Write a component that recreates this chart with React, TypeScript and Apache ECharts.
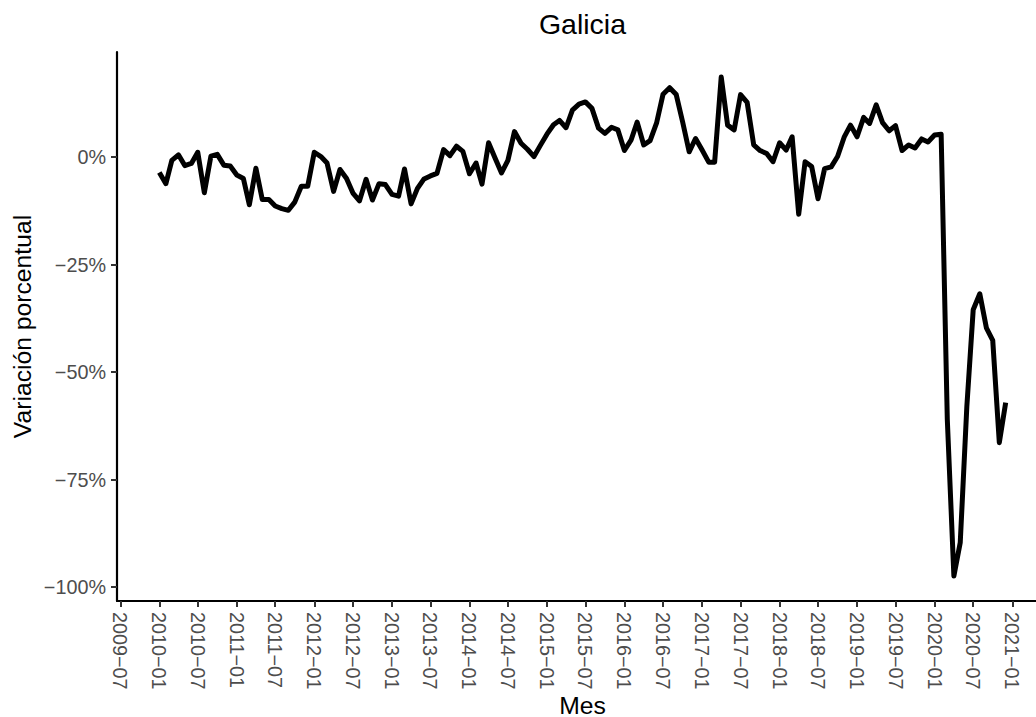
import React, { useEffect, useRef } from "react";
import * as echarts from "echarts";

// Monthly series starts 2010-01
const START_YEAR = 2010;
const START_MONTH = 0;

// Variación porcentual (%) by month, 2010-01 … 2020-12
const values: number[] = [
  -3.6, -6.2, -0.8, 0.5, -2.0, -1.5, 1.1, -8.3, 0.2, 0.6, -1.9, -2.1,
  -4.2, -5.0, -11.1, -2.6, -9.9, -9.9, -11.4, -12.0, -12.4, -10.5, -6.8, -6.8,
  1.1, 0.1, -1.4, -8.0, -2.9, -5.0, -8.4, -10.2, -5.2, -10.0, -6.2, -6.4,
  -8.7, -9.1, -2.8, -10.9, -7.3, -5.1, -4.4, -3.8, 1.7, 0.3, 2.5, 1.3,
  -3.9, -1.4, -6.3, 3.3, -0.2, -3.7, -0.8, 5.9, 3.2, 1.8, 0.1, 2.7,
  5.3, 7.5, 8.5, 6.8, 10.9, 12.3, 12.8, 11.3, 6.7, 5.5, 6.9, 6.3,
  1.5, 3.9, 8.1, 2.8, 3.8, 8.0, 14.6, 16.1, 14.5, 8.2, 1.2, 4.3,
  1.6, -1.2, -1.2, 18.6, 7.4, 6.3, 14.5, 12.7, 2.8, 1.5, 0.8, -1.1,
  3.3, 1.6, 4.7, -13.3, -1.1, -2.2, -9.7, -2.7, -2.3, 0.1, 4.6, 7.4,
  4.7, 9.2, 7.8, 12.1, 8.0, 6.1, 7.3, 1.5, 2.8, 2.1, 4.2, 3.5,
  5.1, 5.3, -61.0, -97.4, -89.6, -58.0, -35.5, -31.8, -39.7, -42.6, -66.4, -57.1,
];

const xTickLabels: string[] = [
  "2009-07", "2010-01", "2010-07", "2011-01", "2011-07", "2012-01",
  "2012-07", "2013-01", "2013-07", "2014-01", "2014-07", "2015-01",
  "2015-07", "2016-01", "2016-07", "2017-01", "2017-07", "2018-01",
  "2018-07", "2019-01", "2019-07", "2020-01", "2020-07", "2021-01",
];

const yTicks: number[] = [-100, -75, -50, -25, 0];

const TITLE = "Galicia";
const X_TITLE = "Mes";
const Y_TITLE = "Variación porcentual";

const FONT = "'Liberation Sans', Arial, Helvetica, sans-serif";

function monthTs(i: number): number {
  return Date.UTC(START_YEAR, START_MONTH + i, 1);
}
function labelTs(s: string): number {
  const [y, m] = s.split("-").map(Number);
  return Date.UTC(y, m - 1, 1);
}
const MINUS = "\u2212";

export default function App() {
  const ref = useRef<HTMLDivElement>(null);

  useEffect(() => {
    if (!ref.current) return;
    const chart = echarts.init(ref.current, undefined, { renderer: "svg" });

    const seriesData = values.map((v, i) => [monthTs(i), v]);
    const t0 = monthTs(0);
    const t1 = monthTs(values.length - 1);
    const span = t1 - t0;
    const xMin = t0 - 0.05 * span;
    const xMax = t1 + 0.05 * span;
    const vMin = Math.min(...values);
    const vMax = Math.max(...values);
    const vr = vMax - vMin;
    const yMin = vMin - 0.05 * vr;
    const yMax = vMax + 0.05 * vr;

    const tickTs = xTickLabels.map(labelTs);
    const labelFor = (v: number): string => {
      let best = "";
      let bd = Infinity;
      tickTs.forEach((t, k) => {
        const d = Math.abs(t - v);
        if (d < bd) {
          bd = d;
          best = xTickLabels[k];
        }
      });
      return bd < 86400000 ? best.replace("-", MINUS) : "";
    };

    const W = 1060;
    const gridLeft = 117;
    const gridRight = 12;
    const gridTop = 52;
    const gridBottom = 116;
    const panelCenterX = gridLeft + (W - gridLeft - gridRight) / 2;
    const panelCenterY = gridTop + (717 - gridTop - gridBottom) / 2;

    chart.setOption({
      animation: false,
      backgroundColor: "#ffffff",
      grid: {
        left: gridLeft,
        right: gridRight,
        top: gridTop,
        bottom: gridBottom,
        containLabel: false,
        outerBoundsMode: "none",
      },
      xAxis: {
        type: "value",
        min: xMin,
        max: xMax,
        scale: true,
        axisLine: { show: true, onZero: false, lineStyle: { color: "#000000", width: 2.2 } },
        axisTick: {
          show: true,
          length: 6,
          customValues: tickTs,
          lineStyle: { color: "#333333", width: 2 },
        },
        axisLabel: {
          show: true,
          customValues: tickTs,
          rotate: -90,
          margin: 11,
          fontSize: 19.8,
          fontFamily: FONT,
          color: "#4D4D4D",
          formatter: (v: number) => labelFor(v),
        },
        splitLine: { show: false },
      },
      yAxis: {
        type: "value",
        min: yMin,
        max: yMax,
        axisLine: { show: true, onZero: false, lineStyle: { color: "#000000", width: 2.2 } },
        axisTick: {
          show: true,
          length: 6,
          customValues: yTicks,
          lineStyle: { color: "#333333", width: 2 },
        },
        axisLabel: {
          show: true,
          customValues: yTicks,
          margin: 11,
          fontSize: 19.8,
          fontFamily: FONT,
          color: "#4D4D4D",
          formatter: (v: number) => (v < 0 ? MINUS : "") + Math.abs(Math.round(v)) + "%",
        },
        splitLine: { show: false },
      },
      series: [
        {
          type: "line",
          data: seriesData,
          showSymbol: false,
          symbol: "none",
          lineStyle: { color: "#000000", width: 5, join: "round", cap: "butt" },
          emphasis: { disabled: true },
        },
      ],
      graphic: [
        {
          type: "text",
          x: panelCenterX,
          y: 24,
          style: {
            text: TITLE,
            fontSize: 28.5,
            fontFamily: FONT,
            fill: "#000000",
            textAlign: "center",
            textVerticalAlign: "middle",
          },
        },
        {
          type: "text",
          x: panelCenterX,
          y: 705,
          style: {
            text: X_TITLE,
            fontSize: 24.7,
            fontFamily: FONT,
            fill: "#000000",
            textAlign: "center",
            textVerticalAlign: "middle",
          },
        },
        {
          type: "text",
          x: 22.5,
          y: panelCenterY,
          rotation: Math.PI / 2,
          style: {
            text: Y_TITLE,
            fontSize: 24.7,
            fontFamily: FONT,
            fill: "#000000",
            textAlign: "center",
            textVerticalAlign: "middle",
          },
        },
      ],
    });

    return () => chart.dispose();
  }, []);

  return (
    <div
      style={{
        position: "fixed",
        left: 0,
        top: 0,
        width: 1036,
        height: 717,
        overflow: "hidden",
        background: "#ffffff",
      }}
    >
      <div ref={ref} style={{ width: 1060, height: 717 }} />
    </div>
  );
}
